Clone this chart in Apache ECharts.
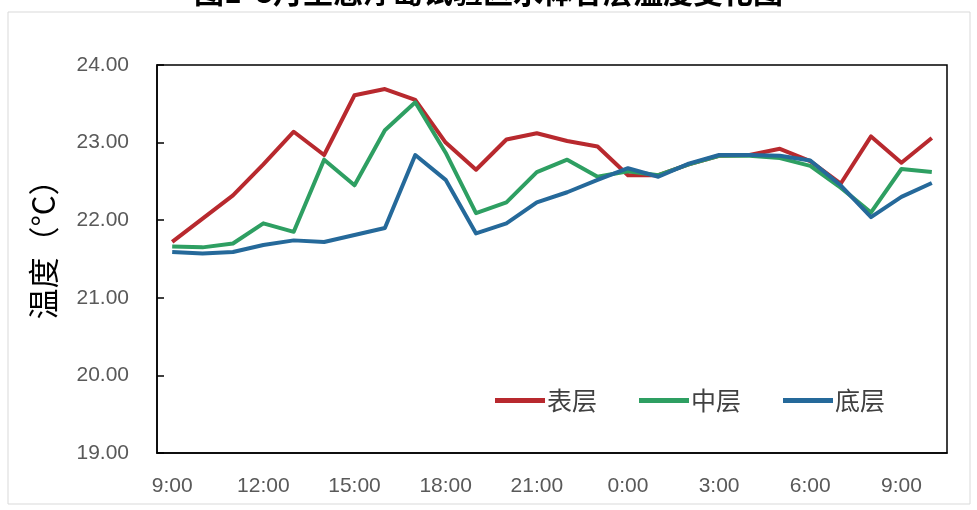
<!DOCTYPE html>
<html>
<head>
<meta charset="utf-8">
<script src="https://cdn.jsdelivr.net/npm/echarts@6/dist/echarts.min.js"></script>
<style>
  html, body { margin: 0; padding: 0; background: #fff; }
  #chart { width: 977px; height: 510px; }
</style>
</head>
<body>
<div id="chart"></div>
<script>
// 时间（逐时）
const hours = ['9:00', '10:00', '11:00', '12:00', '13:00', '14:00', '15:00', '16:00', '17:00',
  '18:00', '19:00', '20:00', '21:00', '22:00', '23:00', '0:00', '1:00', '2:00', '3:00',
  '4:00', '5:00', '6:00', '7:00', '8:00', '9:00', '10:00']

const surfaceTemp = [21.72, 22.02, 22.32, 22.72, 23.14, 22.84, 23.61, 23.69, 23.55, 23.00, 22.65, 23.04, 23.12,
  23.02, 22.95, 22.58, 22.58, 22.72, 22.83, 22.84, 22.92, 22.76, 22.47, 23.08, 22.74, 23.06]
const middleTemp = [21.66, 21.65, 21.70, 21.96, 21.85, 22.78, 22.45, 23.16, 23.52, 22.87, 22.09, 22.23, 22.62,
  22.78, 22.56, 22.63, 22.58, 22.72, 22.83, 22.83, 22.80, 22.70, 22.42, 22.10, 22.66, 22.62]
const bottomTemp = [21.59, 21.57, 21.59, 21.68, 21.74, 21.72, 21.81, 21.90, 22.84, 22.52, 21.83, 21.96, 22.23,
  22.36, 22.52, 22.67, 22.56, 22.73, 22.84, 22.84, 22.83, 22.77, 22.45, 22.04, 22.30, 22.48]

const seriesNames = ['表层', '中层', '底层']
const colors = ['#B8292E', '#2E9F62', '#25699A']

const labelFont = 'Liberation Sans, Arial, sans-serif'
const cjkFont = 'Noto Sans CJK SC, sans-serif'

const chart = echarts.init(document.getElementById('chart'))

const option = {
  animation: false,
  color: colors,
  title: {
    text: '图1  8月生态浮岛试验区水体各层温度变化图',
    left: 'center',
    top: -28,
    textStyle: {
      fontFamily: cjkFont,
      fontSize: 30,
      fontWeight: 'bold',
      color: '#000'
    }
  },
  graphic: [{
    type: 'rect',
    shape: { x: 8, y: 12, width: 962, height: 492 },
    style: { fill: 'none', stroke: '#d9d9d9', lineWidth: 1 },
    silent: true
  }],
  grid: {
    left: 157,
    right: 30,
    top: 65,
    bottom: 57,
    show: true,
    borderColor: '#000',
    borderWidth: 1.5
  },
  legend: {
    data: seriesNames,
    left: 490,
    top: 383,
    icon: 'rect',
    itemWidth: 50,
    itemHeight: 5,
    itemGap: 42,
    textStyle: {
      fontFamily: cjkFont,
      fontSize: 25,
      color: '#404040',
      padding: [0, 0, 0, -3]
    }
  },
  xAxis: {
    type: 'category',
    data: hours,
    boundaryGap: true,
    axisLine: { lineStyle: { color: '#000', width: 1.5 } },
    axisTick: {
      inside: true,
      length: 7,
      interval: 2,
      lineStyle: { color: '#000', width: 1.5 }
    },
    axisLabel: {
      interval: 2,
      margin: 23,
      fontFamily: labelFont,
      fontSize: 21,
      color: '#595959'
    },
    splitLine: { show: false }
  },
  yAxis: {
    type: 'value',
    min: 19,
    max: 24,
    interval: 1,
    name: '温度（°C）',
    nameLocation: 'middle',
    nameRotate: 90,
    nameGap: 98,
    nameTextStyle: {
      fontFamily: cjkFont,
      fontSize: 31,
      color: '#000',
      padding: [0, 0, 0, 34]
    },
    axisLine: { show: true, lineStyle: { color: '#000', width: 1.5 } },
    axisTick: {
      show: true,
      inside: true,
      length: 7,
      lineStyle: { color: '#000', width: 1.5 }
    },
    axisLabel: {
      margin: 28,
      fontFamily: labelFont,
      fontSize: 21,
      color: '#595959',
      formatter: v => v.toFixed(2)
    },
    splitLine: { show: false }
  },
  series: [surfaceTemp, middleTemp, bottomTemp].map((data, index) => ({
    name: seriesNames[index],
    type: 'line',
    data: data,
    showSymbol: false,
    symbol: 'none',
    lineStyle: { width: 4, join: 'round' }
  }))
}

chart.setOption(option)
</script>
</body>
</html>
